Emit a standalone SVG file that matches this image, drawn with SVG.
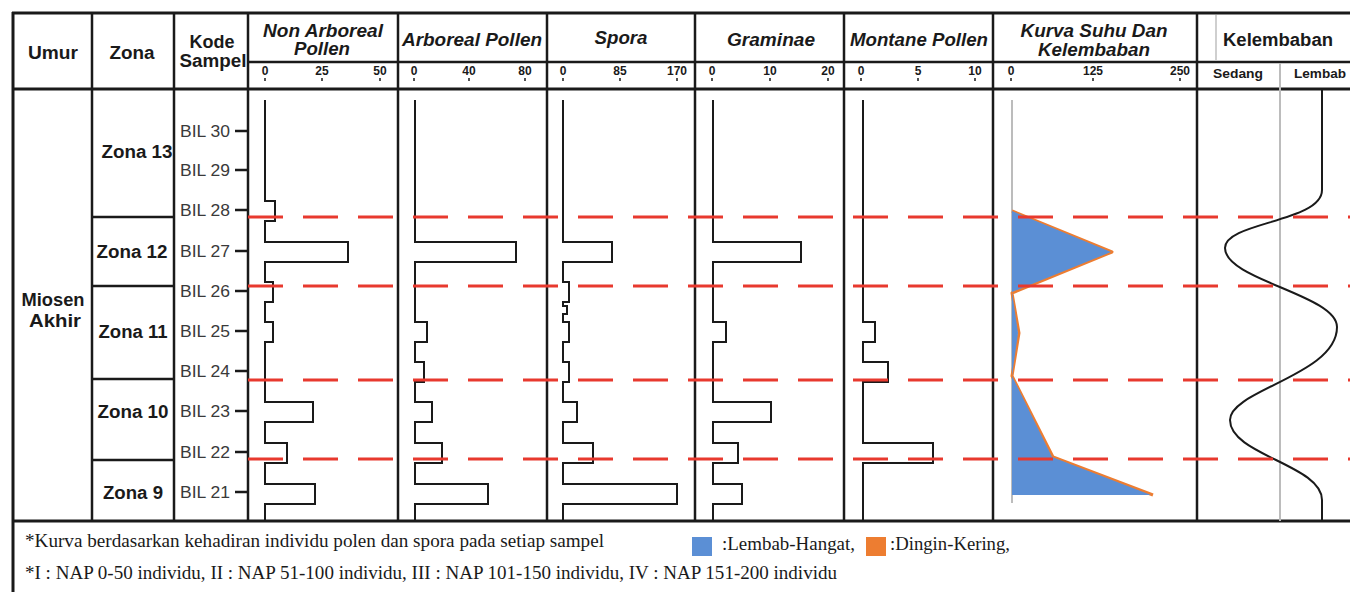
<svg xmlns="http://www.w3.org/2000/svg" width="1350" height="592" viewBox="0 0 1350 592">
<style>
.ln{stroke:#1a1a1a;stroke-width:2.5;fill:none}
.lnb{stroke:#1a1a1a;stroke-width:3;fill:none}
.crv{stroke:#1a1a1a;stroke-width:2;fill:none}
.gry{stroke:#bcbcbc;stroke-width:2;fill:none}
.red{stroke:#e8392e;stroke-width:3;stroke-dasharray:35 20;fill:none}
.h{font-family:"Liberation Sans",Arial,sans-serif;font-weight:bold;font-size:18px;fill:#1a1a1a}
.hi{font-family:"Liberation Sans",Arial,sans-serif;font-weight:bold;font-style:italic;font-size:18px;fill:#1a1a1a}
.sc{font-family:"Liberation Sans",Arial,sans-serif;font-weight:bold;font-size:12px;fill:#1a1a1a}
.bil{font-family:"Liberation Sans",Arial,sans-serif;font-size:17px;fill:#3a3a3a}
.ft{font-family:"Liberation Serif","Times New Roman",serif;font-size:18px;fill:#1a1a1a}
.tk{stroke:#1a1a1a;stroke-width:1.5}
</style>
<rect x="0" y="0" width="1350" height="592" fill="#ffffff"/>

<g id="table-frame">
<line class="lnb" x1="12" y1="13" x2="1350" y2="13"/>
<line class="lnb" x1="13" y1="12" x2="13" y2="592"/>
<line class="ln" x1="248" y1="62" x2="1350" y2="62"/>
<line class="lnb" x1="12" y1="89" x2="1350" y2="89"/>
<line class="lnb" x1="12" y1="521" x2="1350" y2="521"/>
<line class="ln" x1="92" y1="13" x2="92" y2="521"/>
<line class="ln" x1="174" y1="13" x2="174" y2="521"/>
<line class="ln" x1="248" y1="13" x2="248" y2="521"/>
<line class="ln" x1="398" y1="13" x2="398" y2="521"/>
<line class="ln" x1="547" y1="13" x2="547" y2="521"/>
<line class="ln" x1="695" y1="13" x2="695" y2="521"/>
<line class="ln" x1="844" y1="13" x2="844" y2="521"/>
<line class="ln" x1="993" y1="13" x2="993" y2="521"/>
<line class="ln" x1="1197" y1="13" x2="1197" y2="521"/>
<line stroke="#cfcfcf" stroke-width="2" x1="1216" y1="15" x2="1216" y2="60"/>
<line class="gry" x1="1280" y1="63" x2="1280" y2="521"/>
</g>

<g id="header">
<text class="h" x="53" y="59" text-anchor="middle" textLength="50" lengthAdjust="spacingAndGlyphs">Umur</text>
<text class="h" x="132" y="59" text-anchor="middle" textLength="45" lengthAdjust="spacingAndGlyphs">Zona</text>
<text class="h" x="212" y="48" text-anchor="middle" font-size="16" textLength="45" lengthAdjust="spacingAndGlyphs">Kode</text>
<text class="h" x="213" y="67" text-anchor="middle" font-size="16" textLength="67" lengthAdjust="spacingAndGlyphs">Sampel</text>
<text class="hi" x="323" y="37" text-anchor="middle" textLength="120" lengthAdjust="spacingAndGlyphs">Non Arboreal</text>
<text class="hi" x="322" y="55" text-anchor="middle" textLength="56" lengthAdjust="spacingAndGlyphs">Pollen</text>
<text class="hi" x="472" y="46" text-anchor="middle" textLength="140" lengthAdjust="spacingAndGlyphs">Arboreal Pollen</text>
<text class="hi" x="621" y="44" text-anchor="middle" textLength="53" lengthAdjust="spacingAndGlyphs">Spora</text>
<text class="hi" x="771" y="46" text-anchor="middle" textLength="88" lengthAdjust="spacingAndGlyphs">Graminae</text>
<text class="hi" x="919" y="46" text-anchor="middle" textLength="138" lengthAdjust="spacingAndGlyphs">Montane Pollen</text>
<text class="hi" x="1094" y="37" text-anchor="middle" textLength="147" lengthAdjust="spacingAndGlyphs">Kurva Suhu Dan</text>
<text class="hi" x="1094" y="56" text-anchor="middle" textLength="112" lengthAdjust="spacingAndGlyphs">Kelembaban</text>
<text class="h" x="1278" y="46" text-anchor="middle" textLength="110" lengthAdjust="spacingAndGlyphs">Kelembaban</text>
<text class="sc" x="1238" y="78" text-anchor="middle" textLength="50" lengthAdjust="spacingAndGlyphs">Sedang</text>
<text class="sc" x="1320" y="78" text-anchor="middle" textLength="52" lengthAdjust="spacingAndGlyphs">Lembab</text>
</g>

<g id="scales">
<text class="sc" x="265" y="75" text-anchor="middle">0</text>
<text class="sc" x="322" y="75" text-anchor="middle">25</text>
<text class="sc" x="380" y="75" text-anchor="middle">50</text>
<text class="sc" x="414" y="75" text-anchor="middle">0</text>
<text class="sc" x="469" y="75" text-anchor="middle">40</text>
<text class="sc" x="525" y="75" text-anchor="middle">80</text>
<text class="sc" x="563" y="75" text-anchor="middle">0</text>
<text class="sc" x="620" y="75" text-anchor="middle">85</text>
<text class="sc" x="677" y="75" text-anchor="middle">170</text>
<text class="sc" x="712" y="75" text-anchor="middle">0</text>
<text class="sc" x="770" y="75" text-anchor="middle">10</text>
<text class="sc" x="828" y="75" text-anchor="middle">20</text>
<text class="sc" x="861" y="75" text-anchor="middle">0</text>
<text class="sc" x="918" y="75" text-anchor="middle">5</text>
<text class="sc" x="975" y="75" text-anchor="middle">10</text>
<text class="sc" x="1011" y="75" text-anchor="middle">0</text>
<text class="sc" x="1093" y="75" text-anchor="middle">125</text>
<text class="sc" x="1180" y="75" text-anchor="middle">250</text>
<path class="tk" d="M265,78v3M322,78v3M380,78v3M414,78v3M469,78v3M525,78v3M563,78v3M620,78v3M677,78v3M712,78v3M770,78v3M828,78v3M861,78v3M918,78v3M975,78v3M1011,78v3M1093,78v3M1180,78v3"/>
</g>

<g id="age">
<text class="h" x="53" y="306" text-anchor="middle" textLength="63" lengthAdjust="spacingAndGlyphs">Miosen</text>
<text class="h" x="55" y="327" text-anchor="middle" textLength="52" lengthAdjust="spacingAndGlyphs">Akhir</text>
</g>

<g id="zones">
<line class="ln" x1="92" y1="217" x2="174" y2="217"/>
<line class="ln" x1="92" y1="286" x2="174" y2="286"/>
<line class="ln" x1="92" y1="379" x2="174" y2="379"/>
<line class="ln" x1="92" y1="460" x2="174" y2="460"/>
<text class="h" x="137" y="158" text-anchor="middle" textLength="71" lengthAdjust="spacingAndGlyphs">Zona 13</text>
<text class="h" x="132" y="258" text-anchor="middle" textLength="71" lengthAdjust="spacingAndGlyphs">Zona 12</text>
<text class="h" x="133" y="338" text-anchor="middle" textLength="69" lengthAdjust="spacingAndGlyphs">Zona 11</text>
<text class="h" x="133" y="418" text-anchor="middle" textLength="71" lengthAdjust="spacingAndGlyphs">Zona 10</text>
<text class="h" x="133" y="499" text-anchor="middle" textLength="60" lengthAdjust="spacingAndGlyphs">Zona 9</text>
</g>

<g id="samples">
<text class="bil" x="180" y="137" textLength="50" lengthAdjust="spacingAndGlyphs">BIL 30</text>
<text class="bil" x="180" y="176" textLength="50" lengthAdjust="spacingAndGlyphs">BIL 29</text>
<text class="bil" x="180" y="216" textLength="50" lengthAdjust="spacingAndGlyphs">BIL 28</text>
<text class="bil" x="180" y="257" textLength="50" lengthAdjust="spacingAndGlyphs">BIL 27</text>
<text class="bil" x="180" y="297" textLength="50" lengthAdjust="spacingAndGlyphs">BIL 26</text>
<text class="bil" x="180" y="337" textLength="50" lengthAdjust="spacingAndGlyphs">BIL 25</text>
<text class="bil" x="180" y="377" textLength="50" lengthAdjust="spacingAndGlyphs">BIL 24</text>
<text class="bil" x="180" y="417" textLength="50" lengthAdjust="spacingAndGlyphs">BIL 23</text>
<text class="bil" x="180" y="458" textLength="50" lengthAdjust="spacingAndGlyphs">BIL 22</text>
<text class="bil" x="180" y="498" textLength="50" lengthAdjust="spacingAndGlyphs">BIL 21</text>
<path class="ln" d="M235,131H248M235,170H248M235,210H248M235,251H248M235,291H248M235,331H248M235,371H248M235,411H248M235,452H248M235,492H248"/>
</g>

<g id="curves">
<path id="nap" class="crv" d="M265,100V201H275V221H265V242H348V262H265V282H273V302H265V322H273V342H265V402H313V422H265V443H287V463H265V484H315V504H265V521"/>
<path id="ap" class="crv" d="M415,100V242H516V262H415V322H427V342H415V362H424V382H415V402H432V422H415V443H442V463H415V484H488V504H415V521"/>
<path id="spora" class="crv" d="M563,100V242H612V262H563V282H569V302H563V306H567V314H563V322H569V342H563V362H569V382H563V402H577V422H563V443H593V463H563V484H677V504H563V521"/>
<path id="graminae" class="crv" d="M713,100V242H801V262H713V322H726V342H713V402H771V422H713V443H738V463H713V484H742V504H713V521"/>
<path id="montane" class="crv" d="M863,100V322H875V342H863V362H888V382H863V443H933V463H863V521"/>
<line class="gry" x1="1012" y1="100" x2="1012" y2="503"/>
<polyline points="1012,211 1112,252 1012,293 1019,333 1012,376 1053,457 1153,495" fill="none" stroke="#ed7d31" stroke-width="3" stroke-linejoin="round"/>
<polygon points="1012,211 1111,252 1012,292 1018,333 1012,376 1052,457 1151,495 1012,495" fill="#5b8fd5"/>
<path id="kelembaban" class="crv" d="M1322,89V190C1322,222 1225,222 1225,248C1225,280 1337,295 1337,327C1337,375 1230,390 1230,420C1230,455 1322,465 1322,500V521"/>
</g>

<g id="connectors">
<line class="red" x1="248" y1="217" x2="1350" y2="217"/>
<line class="red" x1="248" y1="286" x2="1350" y2="286"/>
<line class="red" x1="248" y1="380" x2="1350" y2="380"/>
<line class="red" x1="248" y1="459" x2="1350" y2="459"/>
</g>

<g id="footnotes">
<text class="ft" x="25" y="547" textLength="579" lengthAdjust="spacingAndGlyphs">*Kurva berdasarkan kehadiran individu polen dan spora pada setiap sampel</text>
<text class="ft" x="25" y="579" textLength="812" lengthAdjust="spacingAndGlyphs">*I : NAP 0-50 individu, II : NAP 51-100 individu, III : NAP 101-150 individu, IV : NAP 151-200 individu</text>
<rect x="692" y="537" width="20" height="19" fill="#5b8fd5"/>
<text class="ft" x="722" y="550" textLength="133" lengthAdjust="spacingAndGlyphs">:Lembab-Hangat,</text>
<rect x="866" y="537" width="20" height="19" fill="#ed7d31"/>
<text class="ft" x="890" y="550" textLength="120" lengthAdjust="spacingAndGlyphs">:Dingin-Kering,</text>
</g>
</svg>
